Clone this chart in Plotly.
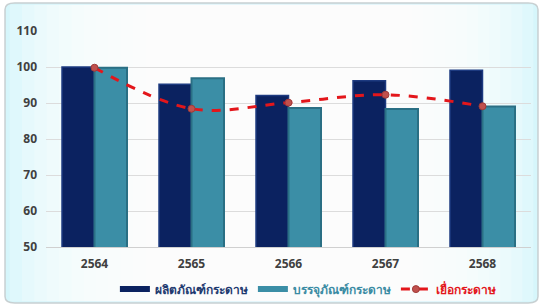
import plotly.graph_objects as go

years = ["2564", "2565", "2566", "2567", "2568"]
products = [100.0, 95.2, 92.1, 96.2, 99.1]
packaging = [99.8, 96.9, 88.6, 88.3, 89.0]
pulp = [99.8, 88.4, 90.1, 92.3, 89.1]

name_products = "ผลิตภัณฑ์กระดาษ"
name_packaging = "บรรจุภัณฑ์กระดาษ"
name_pulp = "เยื่อกระดาษ"

c_prod, c_pack, c_pulp = "#0b2260", "#3b8ea6", "#e3161b"


def label(text, color):
    return f"<span style='color:{color}'><b>{text}</b></span>"


fig = go.Figure()
fig.add_bar(x=years, y=products, name=name_products, legendgroup="p", showlegend=False,
            marker=dict(color=c_prod, line=dict(color="#1d3a80", width=1.5)))
fig.add_bar(x=years, y=packaging, name=name_packaging, legendgroup="k", showlegend=False,
            marker=dict(color=c_pack, line=dict(color="#2a6f84", width=2)))
fig.add_scatter(x=years, y=pulp, name=label(name_pulp, c_pulp), legendgroup="u",
                mode="lines+markers",
                line=dict(color=c_pulp, width=3, dash="dash", shape="spline", smoothing=1.0),
                marker=dict(color="#c0504d", size=7, line=dict(color="#a03a38", width=1)))
# legend swatches for the bar series (wide flat bars, as in the original legend)
fig.add_scatter(x=[None], y=[None], name=label(name_products, "#1f3a70"), legendgroup="p",
                mode="lines", line=dict(color=c_prod, width=6), legendrank=1)
fig.add_scatter(x=[None], y=[None], name=label(name_packaging, "#3a8ba3"), legendgroup="k",
                mode="lines", line=dict(color=c_pack, width=6), legendrank=2)
fig.data[2].legendrank = 3

L, R, T, B = -0.0845, 1.0144, 1.13, -0.259
shapes = [
    dict(type="path", xref="paper", yref="paper",
         path=f"M {L},{B+0.03} L {L},{T-0.03} Q {L},{T} {L+0.02},{T} L {R-0.02},{T} Q {R},{T} {R},{T-0.03} "
              f"L {R},{B+0.03} Q {R},{B} {R-0.02},{B} L {L+0.02},{B} Q {L},{B} {L},{B+0.03} Z",
         fillcolor="#d6f6fb", line=dict(color="#c8d0d2", width=1.5), layer="below"),
]
n = 12
for i in range(n):
    f = i / (n - 1)
    x0 = -0.075 + f * 0.28
    x1 = 1.005 - f * 0.25
    shapes.append(dict(type="rect", xref="paper", yref="paper", x0=x0, x1=x1, y0=B + 0.008, y1=T - 0.008,
                       fillcolor="white", opacity=0.22, line=dict(width=0), layer="below"))

fig.update_layout(
    width=544, height=308,
    margin=dict(l=46, r=13, t=31, b=61, autoexpand=False),
    paper_bgcolor="white", plot_bgcolor="rgba(0,0,0,0)",
    barmode="group", bargap=0.33, bargroupgap=0.0,
    font=dict(family="Noto Sans, DejaVu Sans, sans-serif", color="#404040"),
    showlegend=True,
    legend=dict(orientation="h", x=0.54, xanchor="center", y=-0.195, yanchor="middle",
                font=dict(size=12, color="#24427a"), bgcolor="rgba(0,0,0,0)",
                itemwidth=30, tracegroupgap=0, traceorder="normal"),
    shapes=shapes,
    xaxis=dict(showgrid=False, showline=True, linecolor="#d0d0d0", linewidth=1, automargin=False,
               tickfont=dict(size=12, color="#404040"), ticks="", ticklabelstandoff=6),
    yaxis=dict(range=[50, 110], dtick=10, showgrid=True, gridcolor="#dcdcdc", gridwidth=1,
               zeroline=False, showline=False, automargin=False,
               tickfont=dict(size=12, color="#404040"), ticks="", ticklabelstandoff=8),
)
fig.update_xaxes(tickprefix="<b>", ticksuffix="</b>")
fig.update_yaxes(tickprefix="<b>", ticksuffix="</b>")

fig.write_html("out.html", config={"displayModeBar": False},
               post_script="document.body.style.margin='0';document.body.style.overflow='hidden';")
